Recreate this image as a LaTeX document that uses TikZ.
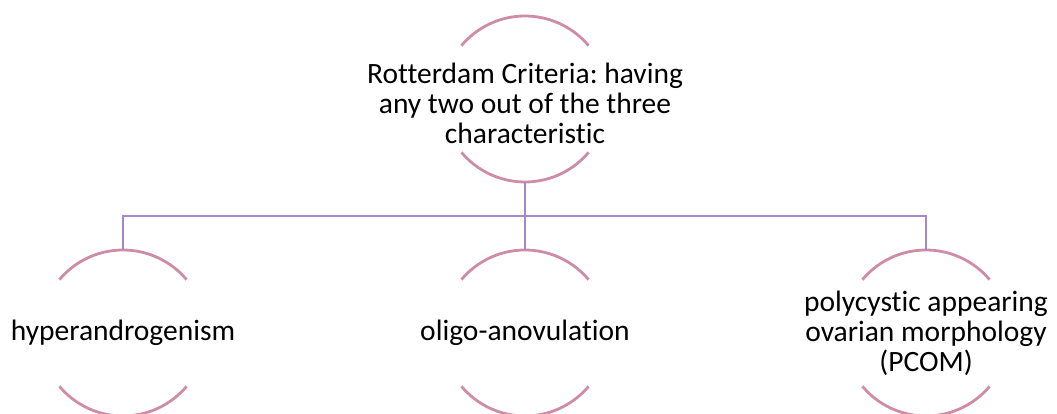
\documentclass[tikz,border=0pt]{standalone}
\usepackage{fontspec}
\setmainfont{Carlito}[Ligatures=NoCommon]
\usetikzlibrary{positioning}
\frenchspacing

\definecolor{arcpink}{RGB}{206,140,166}
\definecolor{linkpurple}{RGB}{163,137,200}

\tikzset{
  ring/.style={circle, minimum size=166pt, inner sep=0pt, outer sep=0pt},
  crittext/.style={align=center, inner sep=0pt, font=\fontsize{29.5}{30}\selectfont},
  arcline/.style={draw=arcpink, line width=2.8pt},
  link/.style={draw=linkpurple, line width=2.8pt},
}

\begin{document}
\begin{tikzpicture}[x=1pt,y=1pt]
    \useasboundingbox (0,0) rectangle (1057,414);

    \node[ring] (top) at (525,315) {};
    \node[ring, below=68pt of top] (oligo) {};
    \node[ring, left=236pt of oligo] (hyper) {};
    \node[ring, right=235pt of oligo] (pcom) {};

    \node[crittext] (top-text) at ([yshift=-4pt]top.center) {Rotterdam Criteria: having\\any two out of the three\\characteristic};
    \node[crittext] (oligo-text) at (oligo) {oligo-anovulation};
    \node[crittext] (hyper-text) at (hyper) {hyperandrogenism};
    \node[crittext] (pcom-text) at (pcom) {polycystic appearing\\ovarian morphology\\(PCOM)};

    % broken rings
    \foreach \n in {top,oligo,hyper,pcom} {
      \draw[arcline] (\n.40) arc[start angle=40, end angle=140, radius=83pt];
      \draw[arcline] (\n.220) arc[start angle=220, end angle=320, radius=83pt];
    }

    \coordinate (bus) at ([yshift=-34pt]top.south);
    \draw[link] (top.south) -- (bus);
    \draw[link] (bus) -| (hyper.north);
    \draw[link] (bus) -- (oligo.north);
    \draw[link] (bus) -| (pcom.north);
\end{tikzpicture}
\end{document}
